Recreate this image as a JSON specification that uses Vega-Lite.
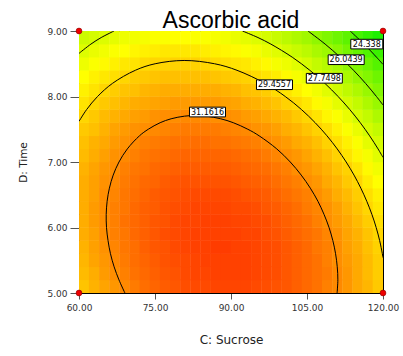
{
"$schema": "https://vega.github.io/schema/vega-lite/v6.json",
"width": 304, "height": 262,
"autosize": "none",
"padding": {"left": 79, "top": 31, "right": 20, "bottom": 63},
"background": "white",
"title": {"text": "Ascorbic acid", "font": "Liberation Sans", "fontSize": 23, "fontWeight": "normal", "color": "#000", "anchor": "middle", "frame": "group", "baseline": "alphabetic", "offset": -24},
"config": {
 "view": {"stroke": null},
 "axis": {"labelFont": "DejaVu Sans", "labelFontSize": 9, "labelColor": "#333", "tickColor": "#555", "tickWidth": 1, "domainColor": "#000", "domainWidth": 1, "titleFont": "DejaVu Sans", "titleFontSize": 12, "titleFontWeight": "normal", "titleColor": "#222", "grid": false, "zindex": 1}
},
"datasets": {
"grid": [
{"c":61,"d":5.1,"v":29.9},{"c":63,"d":5.1,"v":30.3},{"c":65,"d":5.1,"v":30.6},{"c":67,"d":5.1,"v":30.9},{"c":69,"d":5.1,"v":31.2},{"c":71,"d":5.1,"v":31.5},{"c":73,"d":5.1,"v":31.8},{"c":75,"d":5.1,"v":32.0},{"c":77,"d":5.1,"v":32.2},{"c":79,"d":5.1,"v":32.3},{"c":81,"d":5.1,"v":32.5},{"c":83,"d":5.1,"v":32.6},{"c":85,"d":5.1,"v":32.6},{"c":87,"d":5.1,"v":32.7},{"c":89,"d":5.1,"v":32.7},{"c":91,"d":5.1,"v":32.7},{"c":93,"d":5.1,"v":32.7},{"c":95,"d":5.1,"v":32.6},{"c":97,"d":5.1,"v":32.5},{"c":99,"d":5.1,"v":32.4},{"c":101,"d":5.1,"v":32.3},{"c":103,"d":5.1,"v":32.1},{"c":105,"d":5.1,"v":31.9},{"c":107,"d":5.1,"v":31.7},{"c":109,"d":5.1,"v":31.4},{"c":111,"d":5.1,"v":31.2},{"c":113,"d":5.1,"v":30.9},{"c":115,"d":5.1,"v":30.5},{"c":117,"d":5.1,"v":30.2},{"c":119,"d":5.1,"v":29.8},
{"c":61,"d":5.3,"v":30.1},{"c":63,"d":5.3,"v":30.4},{"c":65,"d":5.3,"v":30.8},{"c":67,"d":5.3,"v":31.1},{"c":69,"d":5.3,"v":31.4},{"c":71,"d":5.3,"v":31.7},{"c":73,"d":5.3,"v":31.9},{"c":75,"d":5.3,"v":32.1},{"c":77,"d":5.3,"v":32.3},{"c":79,"d":5.3,"v":32.4},{"c":81,"d":5.3,"v":32.6},{"c":83,"d":5.3,"v":32.7},{"c":85,"d":5.3,"v":32.7},{"c":87,"d":5.3,"v":32.8},{"c":89,"d":5.3,"v":32.8},{"c":91,"d":5.3,"v":32.8},{"c":93,"d":5.3,"v":32.8},{"c":95,"d":5.3,"v":32.7},{"c":97,"d":5.3,"v":32.6},{"c":99,"d":5.3,"v":32.5},{"c":101,"d":5.3,"v":32.3},{"c":103,"d":5.3,"v":32.1},{"c":105,"d":5.3,"v":31.9},{"c":107,"d":5.3,"v":31.7},{"c":109,"d":5.3,"v":31.5},{"c":111,"d":5.3,"v":31.2},{"c":113,"d":5.3,"v":30.9},{"c":115,"d":5.3,"v":30.5},{"c":117,"d":5.3,"v":30.1},{"c":119,"d":5.3,"v":29.7},
{"c":61,"d":5.5,"v":30.2},{"c":63,"d":5.5,"v":30.6},{"c":65,"d":5.5,"v":30.9},{"c":67,"d":5.5,"v":31.2},{"c":69,"d":5.5,"v":31.5},{"c":71,"d":5.5,"v":31.8},{"c":73,"d":5.5,"v":32.0},{"c":75,"d":5.5,"v":32.2},{"c":77,"d":5.5,"v":32.4},{"c":79,"d":5.5,"v":32.5},{"c":81,"d":5.5,"v":32.6},{"c":83,"d":5.5,"v":32.7},{"c":85,"d":5.5,"v":32.8},{"c":87,"d":5.5,"v":32.8},{"c":89,"d":5.5,"v":32.8},{"c":91,"d":5.5,"v":32.8},{"c":93,"d":5.5,"v":32.8},{"c":95,"d":5.5,"v":32.7},{"c":97,"d":5.5,"v":32.6},{"c":99,"d":5.5,"v":32.5},{"c":101,"d":5.5,"v":32.3},{"c":103,"d":5.5,"v":32.1},{"c":105,"d":5.5,"v":31.9},{"c":107,"d":5.5,"v":31.7},{"c":109,"d":5.5,"v":31.4},{"c":111,"d":5.5,"v":31.1},{"c":113,"d":5.5,"v":30.8},{"c":115,"d":5.5,"v":30.5},{"c":117,"d":5.5,"v":30.1},{"c":119,"d":5.5,"v":29.7},
{"c":61,"d":5.7,"v":30.3},{"c":63,"d":5.7,"v":30.7},{"c":65,"d":5.7,"v":31.0},{"c":67,"d":5.7,"v":31.3},{"c":69,"d":5.7,"v":31.6},{"c":71,"d":5.7,"v":31.8},{"c":73,"d":5.7,"v":32.1},{"c":75,"d":5.7,"v":32.3},{"c":77,"d":5.7,"v":32.4},{"c":79,"d":5.7,"v":32.6},{"c":81,"d":5.7,"v":32.7},{"c":83,"d":5.7,"v":32.8},{"c":85,"d":5.7,"v":32.8},{"c":87,"d":5.7,"v":32.9},{"c":89,"d":5.7,"v":32.9},{"c":91,"d":5.7,"v":32.8},{"c":93,"d":5.7,"v":32.8},{"c":95,"d":5.7,"v":32.7},{"c":97,"d":5.7,"v":32.6},{"c":99,"d":5.7,"v":32.5},{"c":101,"d":5.7,"v":32.3},{"c":103,"d":5.7,"v":32.1},{"c":105,"d":5.7,"v":31.9},{"c":107,"d":5.7,"v":31.6},{"c":109,"d":5.7,"v":31.4},{"c":111,"d":5.7,"v":31.1},{"c":113,"d":5.7,"v":30.7},{"c":115,"d":5.7,"v":30.4},{"c":117,"d":5.7,"v":30.0},{"c":119,"d":5.7,"v":29.6},
{"c":61,"d":5.9,"v":30.4},{"c":63,"d":5.9,"v":30.7},{"c":65,"d":5.9,"v":31.1},{"c":67,"d":5.9,"v":31.4},{"c":69,"d":5.9,"v":31.6},{"c":71,"d":5.9,"v":31.9},{"c":73,"d":5.9,"v":32.1},{"c":75,"d":5.9,"v":32.3},{"c":77,"d":5.9,"v":32.5},{"c":79,"d":5.9,"v":32.6},{"c":81,"d":5.9,"v":32.7},{"c":83,"d":5.9,"v":32.8},{"c":85,"d":5.9,"v":32.8},{"c":87,"d":5.9,"v":32.8},{"c":89,"d":5.9,"v":32.8},{"c":91,"d":5.9,"v":32.8},{"c":93,"d":5.9,"v":32.7},{"c":95,"d":5.9,"v":32.7},{"c":97,"d":5.9,"v":32.5},{"c":99,"d":5.9,"v":32.4},{"c":101,"d":5.9,"v":32.2},{"c":103,"d":5.9,"v":32.0},{"c":105,"d":5.9,"v":31.8},{"c":107,"d":5.9,"v":31.6},{"c":109,"d":5.9,"v":31.3},{"c":111,"d":5.9,"v":31.0},{"c":113,"d":5.9,"v":30.6},{"c":115,"d":5.9,"v":30.3},{"c":117,"d":5.9,"v":29.9},{"c":119,"d":5.9,"v":29.5},
{"c":61,"d":6.1,"v":30.4},{"c":63,"d":6.1,"v":30.8},{"c":65,"d":6.1,"v":31.1},{"c":67,"d":6.1,"v":31.4},{"c":69,"d":6.1,"v":31.7},{"c":71,"d":6.1,"v":31.9},{"c":73,"d":6.1,"v":32.1},{"c":75,"d":6.1,"v":32.3},{"c":77,"d":6.1,"v":32.4},{"c":79,"d":6.1,"v":32.6},{"c":81,"d":6.1,"v":32.7},{"c":83,"d":6.1,"v":32.7},{"c":85,"d":6.1,"v":32.8},{"c":87,"d":6.1,"v":32.8},{"c":89,"d":6.1,"v":32.8},{"c":91,"d":6.1,"v":32.7},{"c":93,"d":6.1,"v":32.7},{"c":95,"d":6.1,"v":32.6},{"c":97,"d":6.1,"v":32.5},{"c":99,"d":6.1,"v":32.3},{"c":101,"d":6.1,"v":32.1},{"c":103,"d":6.1,"v":31.9},{"c":105,"d":6.1,"v":31.7},{"c":107,"d":6.1,"v":31.4},{"c":109,"d":6.1,"v":31.1},{"c":111,"d":6.1,"v":30.8},{"c":113,"d":6.1,"v":30.5},{"c":115,"d":6.1,"v":30.1},{"c":117,"d":6.1,"v":29.7},{"c":119,"d":6.1,"v":29.3},
{"c":61,"d":6.3,"v":30.4},{"c":63,"d":6.3,"v":30.8},{"c":65,"d":6.3,"v":31.1},{"c":67,"d":6.3,"v":31.4},{"c":69,"d":6.3,"v":31.6},{"c":71,"d":6.3,"v":31.9},{"c":73,"d":6.3,"v":32.1},{"c":75,"d":6.3,"v":32.2},{"c":77,"d":6.3,"v":32.4},{"c":79,"d":6.3,"v":32.5},{"c":81,"d":6.3,"v":32.6},{"c":83,"d":6.3,"v":32.7},{"c":85,"d":6.3,"v":32.7},{"c":87,"d":6.3,"v":32.7},{"c":89,"d":6.3,"v":32.7},{"c":91,"d":6.3,"v":32.6},{"c":93,"d":6.3,"v":32.6},{"c":95,"d":6.3,"v":32.5},{"c":97,"d":6.3,"v":32.3},{"c":99,"d":6.3,"v":32.2},{"c":101,"d":6.3,"v":32.0},{"c":103,"d":6.3,"v":31.8},{"c":105,"d":6.3,"v":31.5},{"c":107,"d":6.3,"v":31.3},{"c":109,"d":6.3,"v":31.0},{"c":111,"d":6.3,"v":30.7},{"c":113,"d":6.3,"v":30.3},{"c":115,"d":6.3,"v":29.9},{"c":117,"d":6.3,"v":29.5},{"c":119,"d":6.3,"v":29.1},
{"c":61,"d":6.5,"v":30.4},{"c":63,"d":6.5,"v":30.7},{"c":65,"d":6.5,"v":31.1},{"c":67,"d":6.5,"v":31.3},{"c":69,"d":6.5,"v":31.6},{"c":71,"d":6.5,"v":31.8},{"c":73,"d":6.5,"v":32.0},{"c":75,"d":6.5,"v":32.2},{"c":77,"d":6.5,"v":32.3},{"c":79,"d":6.5,"v":32.4},{"c":81,"d":6.5,"v":32.5},{"c":83,"d":6.5,"v":32.6},{"c":85,"d":6.5,"v":32.6},{"c":87,"d":6.5,"v":32.6},{"c":89,"d":6.5,"v":32.6},{"c":91,"d":6.5,"v":32.5},{"c":93,"d":6.5,"v":32.4},{"c":95,"d":6.5,"v":32.3},{"c":97,"d":6.5,"v":32.2},{"c":99,"d":6.5,"v":32.0},{"c":101,"d":6.5,"v":31.8},{"c":103,"d":6.5,"v":31.6},{"c":105,"d":6.5,"v":31.4},{"c":107,"d":6.5,"v":31.1},{"c":109,"d":6.5,"v":30.8},{"c":111,"d":6.5,"v":30.4},{"c":113,"d":6.5,"v":30.1},{"c":115,"d":6.5,"v":29.7},{"c":117,"d":6.5,"v":29.3},{"c":119,"d":6.5,"v":28.9},
{"c":61,"d":6.7,"v":30.4},{"c":63,"d":6.7,"v":30.7},{"c":65,"d":6.7,"v":31.0},{"c":67,"d":6.7,"v":31.2},{"c":69,"d":6.7,"v":31.5},{"c":71,"d":6.7,"v":31.7},{"c":73,"d":6.7,"v":31.9},{"c":75,"d":6.7,"v":32.0},{"c":77,"d":6.7,"v":32.2},{"c":79,"d":6.7,"v":32.3},{"c":81,"d":6.7,"v":32.4},{"c":83,"d":6.7,"v":32.4},{"c":85,"d":6.7,"v":32.4},{"c":87,"d":6.7,"v":32.4},{"c":89,"d":6.7,"v":32.4},{"c":91,"d":6.7,"v":32.3},{"c":93,"d":6.7,"v":32.2},{"c":95,"d":6.7,"v":32.1},{"c":97,"d":6.7,"v":32.0},{"c":99,"d":6.7,"v":31.8},{"c":101,"d":6.7,"v":31.6},{"c":103,"d":6.7,"v":31.4},{"c":105,"d":6.7,"v":31.1},{"c":107,"d":6.7,"v":30.9},{"c":109,"d":6.7,"v":30.5},{"c":111,"d":6.7,"v":30.2},{"c":113,"d":6.7,"v":29.8},{"c":115,"d":6.7,"v":29.5},{"c":117,"d":6.7,"v":29.0},{"c":119,"d":6.7,"v":28.6},
{"c":61,"d":6.9,"v":30.3},{"c":63,"d":6.9,"v":30.6},{"c":65,"d":6.9,"v":30.9},{"c":67,"d":6.9,"v":31.1},{"c":69,"d":6.9,"v":31.4},{"c":71,"d":6.9,"v":31.6},{"c":73,"d":6.9,"v":31.7},{"c":75,"d":6.9,"v":31.9},{"c":77,"d":6.9,"v":32.0},{"c":79,"d":6.9,"v":32.1},{"c":81,"d":6.9,"v":32.2},{"c":83,"d":6.9,"v":32.2},{"c":85,"d":6.9,"v":32.2},{"c":87,"d":6.9,"v":32.2},{"c":89,"d":6.9,"v":32.2},{"c":91,"d":6.9,"v":32.1},{"c":93,"d":6.9,"v":32.0},{"c":95,"d":6.9,"v":31.9},{"c":97,"d":6.9,"v":31.8},{"c":99,"d":6.9,"v":31.6},{"c":101,"d":6.9,"v":31.4},{"c":103,"d":6.9,"v":31.1},{"c":105,"d":6.9,"v":30.9},{"c":107,"d":6.9,"v":30.6},{"c":109,"d":6.9,"v":30.3},{"c":111,"d":6.9,"v":29.9},{"c":113,"d":6.9,"v":29.6},{"c":115,"d":6.9,"v":29.2},{"c":117,"d":6.9,"v":28.7},{"c":119,"d":6.9,"v":28.3},
{"c":61,"d":7.1,"v":30.1},{"c":63,"d":7.1,"v":30.4},{"c":65,"d":7.1,"v":30.7},{"c":67,"d":7.1,"v":31.0},{"c":69,"d":7.1,"v":31.2},{"c":71,"d":7.1,"v":31.4},{"c":73,"d":7.1,"v":31.6},{"c":75,"d":7.1,"v":31.7},{"c":77,"d":7.1,"v":31.8},{"c":79,"d":7.1,"v":31.9},{"c":81,"d":7.1,"v":32.0},{"c":83,"d":7.1,"v":32.0},{"c":85,"d":7.1,"v":32.0},{"c":87,"d":7.1,"v":32.0},{"c":89,"d":7.1,"v":32.0},{"c":91,"d":7.1,"v":31.9},{"c":93,"d":7.1,"v":31.8},{"c":95,"d":7.1,"v":31.7},{"c":97,"d":7.1,"v":31.5},{"c":99,"d":7.1,"v":31.3},{"c":101,"d":7.1,"v":31.1},{"c":103,"d":7.1,"v":30.9},{"c":105,"d":7.1,"v":30.6},{"c":107,"d":7.1,"v":30.3},{"c":109,"d":7.1,"v":30.0},{"c":111,"d":7.1,"v":29.6},{"c":113,"d":7.1,"v":29.2},{"c":115,"d":7.1,"v":28.8},{"c":117,"d":7.1,"v":28.4},{"c":119,"d":7.1,"v":27.9},
{"c":61,"d":7.3,"v":30.0},{"c":63,"d":7.3,"v":30.3},{"c":65,"d":7.3,"v":30.5},{"c":67,"d":7.3,"v":30.8},{"c":69,"d":7.3,"v":31.0},{"c":71,"d":7.3,"v":31.2},{"c":73,"d":7.3,"v":31.4},{"c":75,"d":7.3,"v":31.5},{"c":77,"d":7.3,"v":31.6},{"c":79,"d":7.3,"v":31.7},{"c":81,"d":7.3,"v":31.7},{"c":83,"d":7.3,"v":31.8},{"c":85,"d":7.3,"v":31.8},{"c":87,"d":7.3,"v":31.7},{"c":89,"d":7.3,"v":31.7},{"c":91,"d":7.3,"v":31.6},{"c":93,"d":7.3,"v":31.5},{"c":95,"d":7.3,"v":31.4},{"c":97,"d":7.3,"v":31.2},{"c":99,"d":7.3,"v":31.0},{"c":101,"d":7.3,"v":30.8},{"c":103,"d":7.3,"v":30.5},{"c":105,"d":7.3,"v":30.3},{"c":107,"d":7.3,"v":30.0},{"c":109,"d":7.3,"v":29.6},{"c":111,"d":7.3,"v":29.3},{"c":113,"d":7.3,"v":28.9},{"c":115,"d":7.3,"v":28.5},{"c":117,"d":7.3,"v":28.0},{"c":119,"d":7.3,"v":27.6},
{"c":61,"d":7.5,"v":29.8},{"c":63,"d":7.5,"v":30.0},{"c":65,"d":7.5,"v":30.3},{"c":67,"d":7.5,"v":30.6},{"c":69,"d":7.5,"v":30.8},{"c":71,"d":7.5,"v":31.0},{"c":73,"d":7.5,"v":31.1},{"c":75,"d":7.5,"v":31.2},{"c":77,"d":7.5,"v":31.3},{"c":79,"d":7.5,"v":31.4},{"c":81,"d":7.5,"v":31.5},{"c":83,"d":7.5,"v":31.5},{"c":85,"d":7.5,"v":31.5},{"c":87,"d":7.5,"v":31.5},{"c":89,"d":7.5,"v":31.4},{"c":91,"d":7.5,"v":31.3},{"c":93,"d":7.5,"v":31.2},{"c":95,"d":7.5,"v":31.0},{"c":97,"d":7.5,"v":30.9},{"c":99,"d":7.5,"v":30.7},{"c":101,"d":7.5,"v":30.4},{"c":103,"d":7.5,"v":30.2},{"c":105,"d":7.5,"v":29.9},{"c":107,"d":7.5,"v":29.6},{"c":109,"d":7.5,"v":29.3},{"c":111,"d":7.5,"v":28.9},{"c":113,"d":7.5,"v":28.5},{"c":115,"d":7.5,"v":28.1},{"c":117,"d":7.5,"v":27.6},{"c":119,"d":7.5,"v":27.2},
{"c":61,"d":7.7,"v":29.5},{"c":63,"d":7.7,"v":29.8},{"c":65,"d":7.7,"v":30.1},{"c":67,"d":7.7,"v":30.3},{"c":69,"d":7.7,"v":30.5},{"c":71,"d":7.7,"v":30.7},{"c":73,"d":7.7,"v":30.8},{"c":75,"d":7.7,"v":31.0},{"c":77,"d":7.7,"v":31.1},{"c":79,"d":7.7,"v":31.1},{"c":81,"d":7.7,"v":31.2},{"c":83,"d":7.7,"v":31.2},{"c":85,"d":7.7,"v":31.2},{"c":87,"d":7.7,"v":31.1},{"c":89,"d":7.7,"v":31.1},{"c":91,"d":7.7,"v":31.0},{"c":93,"d":7.7,"v":30.8},{"c":95,"d":7.7,"v":30.7},{"c":97,"d":7.7,"v":30.5},{"c":99,"d":7.7,"v":30.3},{"c":101,"d":7.7,"v":30.1},{"c":103,"d":7.7,"v":29.8},{"c":105,"d":7.7,"v":29.5},{"c":107,"d":7.7,"v":29.2},{"c":109,"d":7.7,"v":28.8},{"c":111,"d":7.7,"v":28.5},{"c":113,"d":7.7,"v":28.1},{"c":115,"d":7.7,"v":27.6},{"c":117,"d":7.7,"v":27.2},{"c":119,"d":7.7,"v":26.7},
{"c":61,"d":7.9,"v":29.2},{"c":63,"d":7.9,"v":29.5},{"c":65,"d":7.9,"v":29.8},{"c":67,"d":7.9,"v":30.0},{"c":69,"d":7.9,"v":30.2},{"c":71,"d":7.9,"v":30.4},{"c":73,"d":7.9,"v":30.5},{"c":75,"d":7.9,"v":30.6},{"c":77,"d":7.9,"v":30.7},{"c":79,"d":7.9,"v":30.8},{"c":81,"d":7.9,"v":30.8},{"c":83,"d":7.9,"v":30.8},{"c":85,"d":7.9,"v":30.8},{"c":87,"d":7.9,"v":30.8},{"c":89,"d":7.9,"v":30.7},{"c":91,"d":7.9,"v":30.6},{"c":93,"d":7.9,"v":30.4},{"c":95,"d":7.9,"v":30.3},{"c":97,"d":7.9,"v":30.1},{"c":99,"d":7.9,"v":29.9},{"c":101,"d":7.9,"v":29.6},{"c":103,"d":7.9,"v":29.4},{"c":105,"d":7.9,"v":29.1},{"c":107,"d":7.9,"v":28.7},{"c":109,"d":7.9,"v":28.4},{"c":111,"d":7.9,"v":28.0},{"c":113,"d":7.9,"v":27.6},{"c":115,"d":7.9,"v":27.2},{"c":117,"d":7.9,"v":26.7},{"c":119,"d":7.9,"v":26.2},
{"c":61,"d":8.1,"v":28.9},{"c":63,"d":8.1,"v":29.2},{"c":65,"d":8.1,"v":29.5},{"c":67,"d":8.1,"v":29.7},{"c":69,"d":8.1,"v":29.9},{"c":71,"d":8.1,"v":30.0},{"c":73,"d":8.1,"v":30.2},{"c":75,"d":8.1,"v":30.3},{"c":77,"d":8.1,"v":30.4},{"c":79,"d":8.1,"v":30.4},{"c":81,"d":8.1,"v":30.4},{"c":83,"d":8.1,"v":30.4},{"c":85,"d":8.1,"v":30.4},{"c":87,"d":8.1,"v":30.4},{"c":89,"d":8.1,"v":30.3},{"c":91,"d":8.1,"v":30.2},{"c":93,"d":8.1,"v":30.0},{"c":95,"d":8.1,"v":29.9},{"c":97,"d":8.1,"v":29.7},{"c":99,"d":8.1,"v":29.4},{"c":101,"d":8.1,"v":29.2},{"c":103,"d":8.1,"v":28.9},{"c":105,"d":8.1,"v":28.6},{"c":107,"d":8.1,"v":28.3},{"c":109,"d":8.1,"v":27.9},{"c":111,"d":8.1,"v":27.5},{"c":113,"d":8.1,"v":27.1},{"c":115,"d":8.1,"v":26.7},{"c":117,"d":8.1,"v":26.2},{"c":119,"d":8.1,"v":25.7},
{"c":61,"d":8.3,"v":28.6},{"c":63,"d":8.3,"v":28.9},{"c":65,"d":8.3,"v":29.1},{"c":67,"d":8.3,"v":29.3},{"c":69,"d":8.3,"v":29.5},{"c":71,"d":8.3,"v":29.7},{"c":73,"d":8.3,"v":29.8},{"c":75,"d":8.3,"v":29.9},{"c":77,"d":8.3,"v":30.0},{"c":79,"d":8.3,"v":30.0},{"c":81,"d":8.3,"v":30.0},{"c":83,"d":8.3,"v":30.0},{"c":85,"d":8.3,"v":30.0},{"c":87,"d":8.3,"v":29.9},{"c":89,"d":8.3,"v":29.8},{"c":91,"d":8.3,"v":29.7},{"c":93,"d":8.3,"v":29.6},{"c":95,"d":8.3,"v":29.4},{"c":97,"d":8.3,"v":29.2},{"c":99,"d":8.3,"v":29.0},{"c":101,"d":8.3,"v":28.7},{"c":103,"d":8.3,"v":28.4},{"c":105,"d":8.3,"v":28.1},{"c":107,"d":8.3,"v":27.8},{"c":109,"d":8.3,"v":27.4},{"c":111,"d":8.3,"v":27.0},{"c":113,"d":8.3,"v":26.6},{"c":115,"d":8.3,"v":26.1},{"c":117,"d":8.3,"v":25.7},{"c":119,"d":8.3,"v":25.2},
{"c":61,"d":8.5,"v":28.2},{"c":63,"d":8.5,"v":28.5},{"c":65,"d":8.5,"v":28.7},{"c":67,"d":8.5,"v":28.9},{"c":69,"d":8.5,"v":29.1},{"c":71,"d":8.5,"v":29.2},{"c":73,"d":8.5,"v":29.4},{"c":75,"d":8.5,"v":29.5},{"c":77,"d":8.5,"v":29.5},{"c":79,"d":8.5,"v":29.6},{"c":81,"d":8.5,"v":29.6},{"c":83,"d":8.5,"v":29.6},{"c":85,"d":8.5,"v":29.5},{"c":87,"d":8.5,"v":29.4},{"c":89,"d":8.5,"v":29.3},{"c":91,"d":8.5,"v":29.2},{"c":93,"d":8.5,"v":29.1},{"c":95,"d":8.5,"v":28.9},{"c":97,"d":8.5,"v":28.7},{"c":99,"d":8.5,"v":28.4},{"c":101,"d":8.5,"v":28.2},{"c":103,"d":8.5,"v":27.9},{"c":105,"d":8.5,"v":27.6},{"c":107,"d":8.5,"v":27.2},{"c":109,"d":8.5,"v":26.9},{"c":111,"d":8.5,"v":26.5},{"c":113,"d":8.5,"v":26.0},{"c":115,"d":8.5,"v":25.6},{"c":117,"d":8.5,"v":25.1},{"c":119,"d":8.5,"v":24.6},
{"c":61,"d":8.7,"v":27.8},{"c":63,"d":8.7,"v":28.1},{"c":65,"d":8.7,"v":28.3},{"c":67,"d":8.7,"v":28.5},{"c":69,"d":8.7,"v":28.6},{"c":71,"d":8.7,"v":28.8},{"c":73,"d":8.7,"v":28.9},{"c":75,"d":8.7,"v":29.0},{"c":77,"d":8.7,"v":29.1},{"c":79,"d":8.7,"v":29.1},{"c":81,"d":8.7,"v":29.1},{"c":83,"d":8.7,"v":29.1},{"c":85,"d":8.7,"v":29.0},{"c":87,"d":8.7,"v":28.9},{"c":89,"d":8.7,"v":28.8},{"c":91,"d":8.7,"v":28.7},{"c":93,"d":8.7,"v":28.5},{"c":95,"d":8.7,"v":28.4},{"c":97,"d":8.7,"v":28.1},{"c":99,"d":8.7,"v":27.9},{"c":101,"d":8.7,"v":27.6},{"c":103,"d":8.7,"v":27.3},{"c":105,"d":8.7,"v":27.0},{"c":107,"d":8.7,"v":26.6},{"c":109,"d":8.7,"v":26.3},{"c":111,"d":8.7,"v":25.9},{"c":113,"d":8.7,"v":25.4},{"c":115,"d":8.7,"v":25.0},{"c":117,"d":8.7,"v":24.5},{"c":119,"d":8.7,"v":24.0},
{"c":61,"d":8.9,"v":27.4},{"c":63,"d":8.9,"v":27.6},{"c":65,"d":8.9,"v":27.8},{"c":67,"d":8.9,"v":28.0},{"c":69,"d":8.9,"v":28.2},{"c":71,"d":8.9,"v":28.3},{"c":73,"d":8.9,"v":28.4},{"c":75,"d":8.9,"v":28.5},{"c":77,"d":8.9,"v":28.5},{"c":79,"d":8.9,"v":28.6},{"c":81,"d":8.9,"v":28.6},{"c":83,"d":8.9,"v":28.5},{"c":85,"d":8.9,"v":28.5},{"c":87,"d":8.9,"v":28.4},{"c":89,"d":8.9,"v":28.3},{"c":91,"d":8.9,"v":28.1},{"c":93,"d":8.9,"v":28.0},{"c":95,"d":8.9,"v":27.8},{"c":97,"d":8.9,"v":27.6},{"c":99,"d":8.9,"v":27.3},{"c":101,"d":8.9,"v":27.0},{"c":103,"d":8.9,"v":26.7},{"c":105,"d":8.9,"v":26.4},{"c":107,"d":8.9,"v":26.0},{"c":109,"d":8.9,"v":25.6},{"c":111,"d":8.9,"v":25.2},{"c":113,"d":8.9,"v":24.8},{"c":115,"d":8.9,"v":24.3},{"c":117,"d":8.9,"v":23.8},{"c":119,"d":8.9,"v":23.3}
],
"cont": [
{"k":"a","i":0,"c":69.06,"d":5.0},{"k":"a","i":1,"c":67.89,"d":5.2},{"k":"a","i":2,"c":66.93,"d":5.4},{"k":"a","i":3,"c":66.21,"d":5.6},{"k":"a","i":4,"c":65.73,"d":5.8},{"k":"a","i":5,"c":65.43,"d":6.0},{"k":"a","i":6,"c":65.37,"d":6.2},{"k":"a","i":7,"c":65.55,"d":6.4},{"k":"a","i":8,"c":66.0,"d":6.6},{"k":"a","i":9,"c":66.75,"d":6.8},{"k":"a","i":10,"c":67.89,"d":7.0},{"k":"a","i":11,"c":69.54,"d":7.2},{"k":"a","i":12,"c":71.94,"d":7.4},{"k":"a","i":13,"c":73.67,"d":7.5},{"k":"a","i":14,"c":76.02,"d":7.6},{"k":"a","i":15,"c":78.18,"d":7.66},{"k":"a","i":16,"c":80.85,"d":7.70},{"k":"a","i":17,"c":82.95,"d":7.71},{"k":"a","i":18,"c":85.08,"d":7.70},{"k":"a","i":19,"c":87.96,"d":7.66},{"k":"a","i":20,"c":90.45,"d":7.6},{"k":"a","i":21,"c":93.32,"d":7.5},{"k":"a","i":22,"c":95.55,"d":7.4},{"k":"a","i":23,"c":99.03,"d":7.2},{"k":"a","i":24,"c":101.7,"d":7.0},{"k":"a","i":25,"c":103.86,"d":6.8},{"k":"a","i":26,"c":105.66,"d":6.6},{"k":"a","i":27,"c":107.16,"d":6.4},{"k":"a","i":28,"c":108.36,"d":6.2},{"k":"a","i":29,"c":109.35,"d":6.0},{"k":"a","i":30,"c":110.1,"d":5.8},{"k":"a","i":31,"c":110.64,"d":5.6},{"k":"a","i":32,"c":110.97,"d":5.4},{"k":"a","i":33,"c":111.09,"d":5.2},{"k":"a","i":34,"c":110.94,"d":5.0},
{"k":"b","i":0,"c":60,"d":7.62},{"k":"b","i":1,"c":61.5,"d":7.8},{"k":"b","i":2,"c":63.66,"d":8.0},{"k":"b","i":3,"c":66.6,"d":8.2},{"k":"b","i":4,"c":71.11,"d":8.4},{"k":"b","i":5,"c":75.03,"d":8.5},{"k":"b","i":6,"c":80.76,"d":8.55},{"k":"b","i":7,"c":86.76,"d":8.5},{"k":"b","i":8,"c":91.19,"d":8.4},{"k":"b","i":9,"c":96.72,"d":8.2},{"k":"b","i":10,"c":100.71,"d":8.0},{"k":"b","i":11,"c":103.92,"d":7.8},{"k":"b","i":12,"c":106.61,"d":7.6},{"k":"b","i":13,"c":108.94,"d":7.4},{"k":"b","i":14,"c":110.96,"d":7.2},{"k":"b","i":15,"c":112.73,"d":7.0},{"k":"b","i":16,"c":114.28,"d":6.8},{"k":"b","i":17,"c":115.63,"d":6.6},{"k":"b","i":18,"c":116.8,"d":6.4},{"k":"b","i":19,"c":117.81,"d":6.2},{"k":"b","i":20,"c":118.65,"d":6.0},{"k":"b","i":21,"c":119.34,"d":5.8},{"k":"b","i":22,"c":119.87,"d":5.6},{"k":"b","i":23,"c":120,"d":5.54},
{"k":"c1","i":0,"c":60,"d":8.658},{"k":"c1","i":1,"c":62.35,"d":8.8},{"k":"c1","i":2,"c":64.38,"d":8.9},{"k":"c1","i":3,"c":66.91,"d":9.0},
{"k":"c2","i":0,"c":92.27,"d":9.0},{"k":"c2","i":1,"c":95.32,"d":8.9},{"k":"c2","i":2,"c":97.87,"d":8.8},{"k":"c2","i":3,"c":102.09,"d":8.6},{"k":"c2","i":4,"c":105.56,"d":8.4},{"k":"c2","i":5,"c":108.54,"d":8.2},{"k":"c2","i":6,"c":111.14,"d":8.0},{"k":"c2","i":7,"c":113.45,"d":7.8},{"k":"c2","i":8,"c":115.51,"d":7.6},{"k":"c2","i":9,"c":117.36,"d":7.4},{"k":"c2","i":10,"c":119.02,"d":7.2},{"k":"c2","i":11,"c":120,"d":7.07},
{"k":"d","i":0,"c":105.2,"d":9.0},{"k":"d","i":1,"c":108.58,"d":8.8},{"k":"d","i":2,"c":111.55,"d":8.6},{"k":"d","i":3,"c":114.19,"d":8.4},{"k":"d","i":4,"c":116.56,"d":8.2},{"k":"d","i":5,"c":118.71,"d":8.0},{"k":"d","i":6,"c":120,"d":7.87},
{"k":"e","i":0,"c":113.52,"d":9.0},{"k":"e","i":1,"c":116.25,"d":8.8},{"k":"e","i":2,"c":118.72,"d":8.6},{"k":"e","i":3,"c":120,"d":8.49}
],
"lab": [
{"t":"31.1616","c":85.36,"d":7.763},
{"t":"29.4557","c":98.58,"d":8.18},
{"t":"27.7498","c":108.42,"d":8.278},
{"t":"26.0439","c":112.73,"d":8.562},
{"t":"24.338","c":116.8,"d":8.80}
],
"pts": [
{"c":60,"d":5},{"c":60,"d":9},{"c":120,"d":5},{"c":120,"d":9}
]
},
"layer": [
{
 "data": {"name": "grid"},
 "mark": {"type": "point", "shape": "M-1,-1.29H1V1.29H-1Z", "size": 111, "filled": true, "opacity": 1, "strokeWidth": 0, "clip": true},
 "encoding": {
  "x": {"field": "c", "type": "quantitative", "scale": {"domain": [60, 120], "nice": false, "zero": false}, "axis": {"orient": "bottom", "values": [60, 75, 90, 105, 120], "format": ".2f", "title": "C: Sucrose", "labelFlush": false, "labelOverlap": false, "tickSize": 6, "labelPadding": 4, "titlePadding": 22}},
  "y": {"field": "d", "type": "quantitative", "scale": {"domain": [5, 9], "nice": false, "zero": false}, "axis": {"orient": "left", "values": [5, 6, 7, 8, 9], "format": ".2f", "title": "D: Time", "labelOverlap": false, "tickSize": 9, "labelPadding": 3, "titlePadding": 18, "titleFontSize": 10.5}},
  "color": {"field": "v", "type": "quantitative", "scale": {"type": "linear", "domain": [23, 28.6, 32.9], "range": ["#10ee00", "#ffff00", "#ff3c00"], "interpolate": "rgb", "clamp": true}, "legend": null}
 }
},
{
 "data": {"name": "cont"},
 "mark": {"type": "line", "interpolate": "catmull-rom", "color": "#000", "strokeWidth": 1, "clip": true},
 "encoding": {
  "x": {"field": "c", "type": "quantitative", "scale": {"domain": [60, 120], "nice": false, "zero": false}, "axis": null},
  "y": {"field": "d", "type": "quantitative", "scale": {"domain": [5, 9], "nice": false, "zero": false}, "axis": null},
  "detail": {"field": "k", "type": "nominal"},
  "order": {"field": "i", "type": "quantitative"}
 }
},
{
 "data": {"name": "lab"},
 "transform": [{"filter": "datum.t != '24.338'"}],
 "mark": {"type": "point", "shape": "M-1,-0.27H1V0.27H-1Z", "size": 1296, "filled": false, "fill": "#fff", "fillOpacity": 1, "opacity": 1, "stroke": "#000", "strokeWidth": 1},
 "encoding": {
  "x": {"field": "c", "type": "quantitative", "scale": {"domain": [60, 120], "nice": false, "zero": false}, "axis": null},
  "y": {"field": "d", "type": "quantitative", "scale": {"domain": [5, 9], "nice": false, "zero": false}, "axis": null}
 }
},
{
 "data": {"name": "lab"},
 "transform": [{"filter": "datum.t == '24.338'"}],
 "mark": {"type": "point", "shape": "M-1,-0.3H1V0.3H-1Z", "size": 1024, "filled": false, "fill": "#fff", "fillOpacity": 1, "opacity": 1, "stroke": "#000", "strokeWidth": 1},
 "encoding": {
  "x": {"field": "c", "type": "quantitative", "scale": {"domain": [60, 120], "nice": false, "zero": false}, "axis": null},
  "y": {"field": "d", "type": "quantitative", "scale": {"domain": [5, 9], "nice": false, "zero": false}, "axis": null}
 }
},
{
 "data": {"name": "lab"},
 "mark": {"type": "text", "font": "DejaVu Sans", "fontSize": 8, "color": "#000", "align": "center", "baseline": "middle", "dy": 0.5},
 "encoding": {
  "x": {"field": "c", "type": "quantitative", "scale": {"domain": [60, 120], "nice": false, "zero": false}, "axis": null},
  "y": {"field": "d", "type": "quantitative", "scale": {"domain": [5, 9], "nice": false, "zero": false}, "axis": null},
  "text": {"field": "t", "type": "nominal"}
 }
},
{
 "data": {"name": "pts"},
 "mark": {"type": "point", "shape": "circle", "size": 34, "filled": true, "fill": "#ee0000", "opacity": 1, "stroke": "#8a0000", "strokeWidth": 0.6},
 "encoding": {
  "x": {"field": "c", "type": "quantitative", "scale": {"domain": [60, 120], "nice": false, "zero": false}, "axis": {"orient": "top", "labels": false, "ticks": false, "title": null, "domain": true}},
  "y": {"field": "d", "type": "quantitative", "scale": {"domain": [5, 9], "nice": false, "zero": false}, "axis": {"orient": "right", "labels": false, "ticks": false, "title": null, "domain": true}}
 }
}
],
"resolve": {"axis": {"x": "independent", "y": "independent"}}
}
